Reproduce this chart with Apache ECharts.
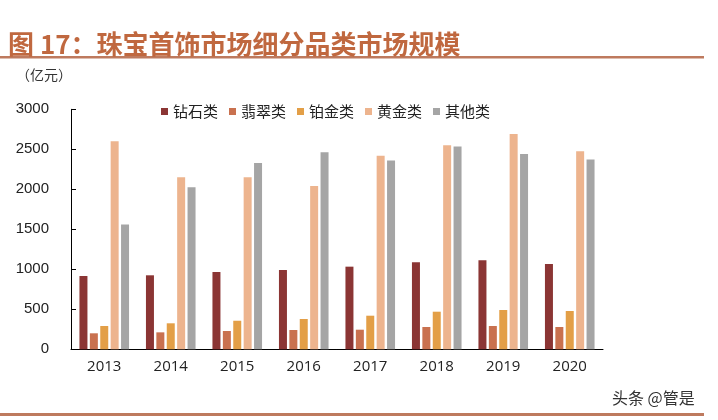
<!DOCTYPE html>
<html>
<head>
<meta charset="utf-8">
<script src="https://cdn.jsdelivr.net/npm/echarts@6/dist/echarts.min.js"></script>
<style>
  html, body { margin: 0; padding: 0; background: #fff; }
  #chart { width: 718px; height: 420px; }
</style>
</head>
<body>
<div id="chart"></div>
<script>
// 数据
const years = ['2013', '2014', '2015', '2016', '2017', '2018', '2019', '2020'];
const diamond = [916, 925, 966, 991, 1033, 1087, 1112, 1066];
const jade = [200, 212, 229, 241, 245, 279, 291, 279];
const platinum = [291, 325, 357, 379, 420, 470, 491, 479];
const gold = [2600, 2150, 2150, 2040, 2418, 2551, 2690, 2476];
const others = [1560, 2025, 2330, 2462, 2360, 2535, 2440, 2372];
const seriesNames = ['钻石类', '翡翠类', '铂金类', '黄金类', '其他类'];
const colors = ['#8B3534', '#C9714F', '#E39F47', '#EDB48E', '#A5A5A5'];

const chart = echarts.init(document.getElementById('chart'));

const cjk = '"Noto Sans CJK SC", sans-serif';

chart.setOption({
  animation: false,
  color: colors,
  title: {
    text: '图 17：珠宝首饰市场细分品类市场规模',
    left: 3,
    top: 26,
    textStyle: {
      fontFamily: cjk,
      fontSize: 26,
      fontWeight: 'bold',
      color: '#C0683F',
    },
  },
  graphic: [
    // 标题下横线
    { type: 'rect', shape: { x: 0, y: 56, width: 704, height: 2.5 }, style: { fill: '#BE7A5E' } },
    // 底部横线
    { type: 'rect', shape: { x: 0, y: 413, width: 704, height: 3 }, style: { fill: '#BE7A5E' } },
    {
      type: 'text',
      left: 16,
      top: 68,
      style: { text: '（亿元）', font: '14px ' + cjk, fill: '#333' },
    },
    {
      type: 'text',
      left: 612,
      top: 390,
      style: { text: '头条 @管是', font: '16px ' + cjk, fill: '#333' },
    },
  ],
  legend: {
    left: 156,
    top: 99,
    itemWidth: 7,
    itemHeight: 7,
    itemGap: 11,
    icon: 'rect',
    textStyle: {
      fontFamily: cjk,
      fontSize: 15,
      color: '#222',
    },
    data: seriesNames,
  },
  grid: {
    left: 71,
    right: 115,
    top: 109.3,
    bottom: 70.7,
  },
  xAxis: {
    type: 'category',
    data: years,
    axisLine: { lineStyle: { color: '#000', width: 1 } },
    axisTick: { inside: true, length: 5, lineStyle: { color: '#000' } },
    axisLabel: {
      fontFamily: '"Open Sans", sans-serif',
      fontSize: 15,
      color: '#222',
      margin: 10,
    },
  },
  yAxis: {
    type: 'value',
    min: 0,
    max: 3000,
    interval: 500,
    splitLine: { show: false },
    axisLine: { show: true, lineStyle: { color: '#000', width: 1 } },
    axisTick: { show: true, inside: true, length: 5, lineStyle: { color: '#000' } },
    axisLabel: {
      fontFamily: '"Liberation Sans", Arial, sans-serif',
      fontSize: 15,
      color: '#222',
      margin: 22,
      formatter: (v) => String(v),
    },
  },
  series: [
    { name: seriesNames[0], type: 'bar', barWidth: 8, barGap: '30%', data: diamond },
    { name: seriesNames[1], type: 'bar', barWidth: 8, barGap: '30%', data: jade },
    { name: seriesNames[2], type: 'bar', barWidth: 8, barGap: '30%', data: platinum },
    { name: seriesNames[3], type: 'bar', barWidth: 8, barGap: '30%', data: gold },
    { name: seriesNames[4], type: 'bar', barWidth: 8, barGap: '30%', data: others },
  ],
});

window.addEventListener('resize', () => {
  chart.resize();
});
</script>
</body>
</html>
